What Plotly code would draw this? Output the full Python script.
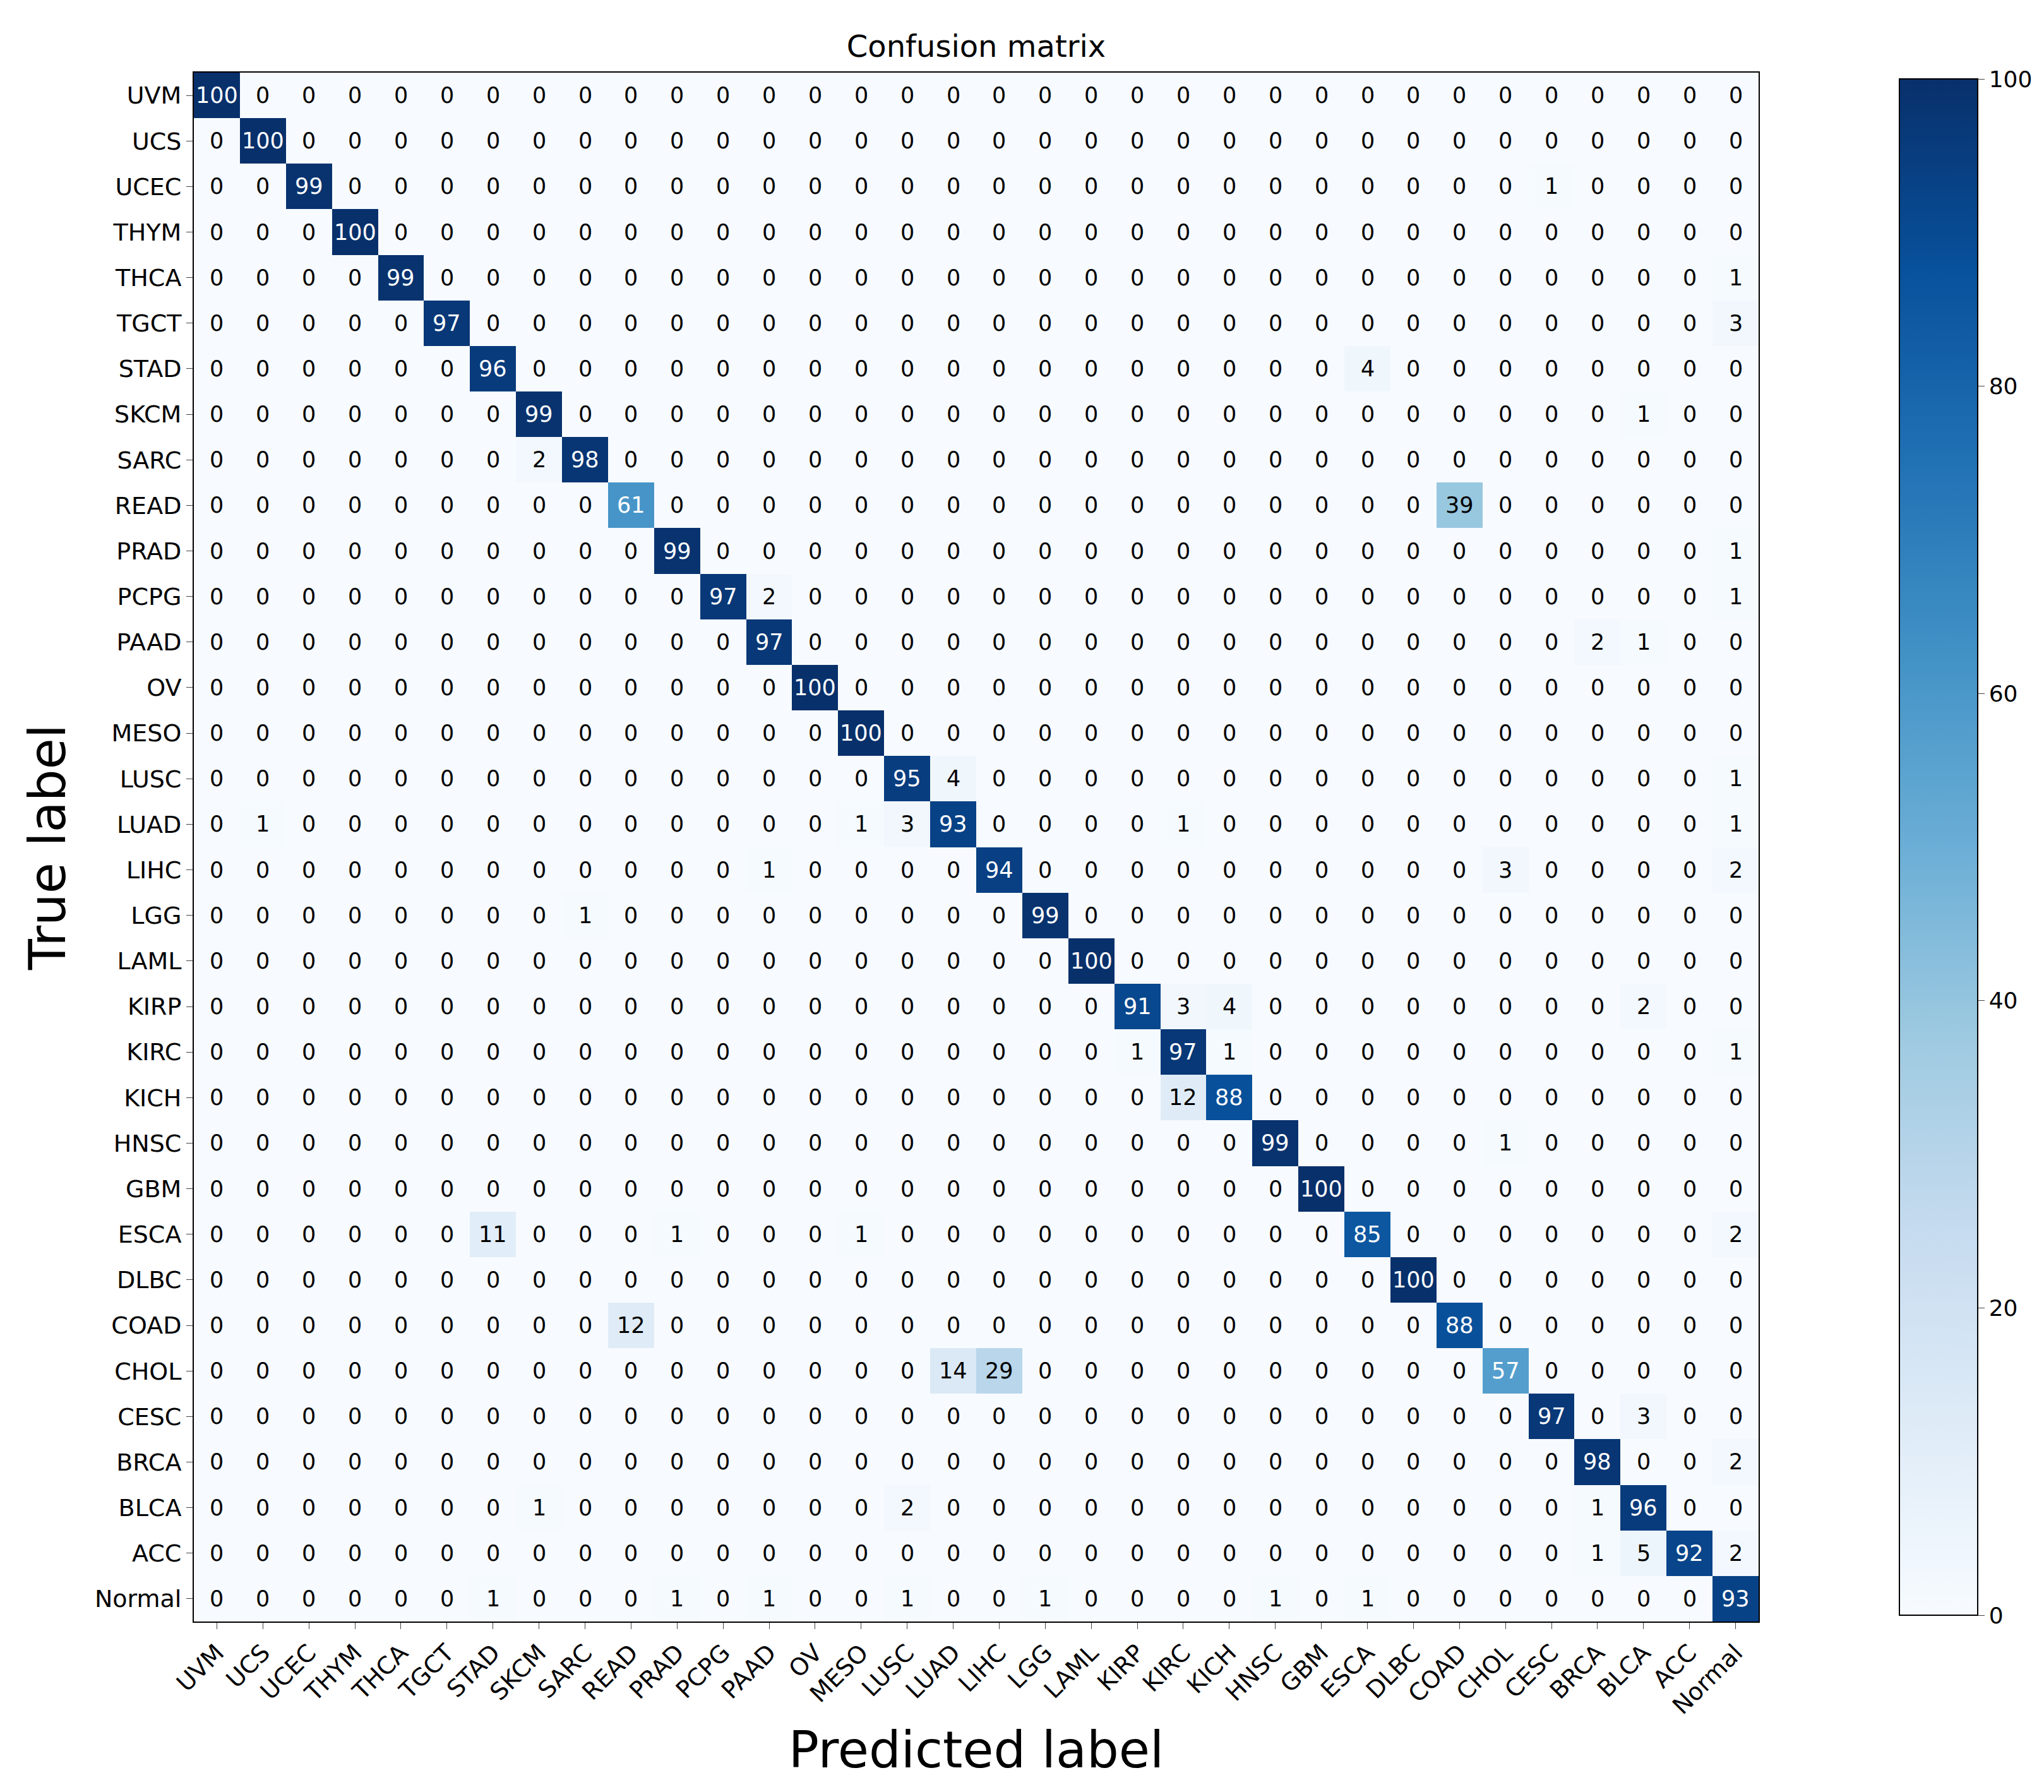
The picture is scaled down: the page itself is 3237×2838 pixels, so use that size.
import plotly.graph_objects as go

labels = ["UVM","UCS","UCEC","THYM","THCA","TGCT","STAD","SKCM","SARC","READ","PRAD","PCPG","PAAD","OV","MESO","LUSC","LUAD","LIHC","LGG","LAML","KIRP","KIRC","KICH","HNSC","GBM","ESCA","DLBC","COAD","CHOL","CESC","BRCA","BLCA","ACC","Normal"]
diagonal = [100,100,99,100,99,97,96,99,98,61,99,97,97,100,100,95,93,94,99,100,91,97,88,99,100,85,100,88,57,97,98,96,92,93]
# (true, predicted, value)
off_diagonal = [
    ("UCEC","CESC",1),("THCA","Normal",1),("TGCT","Normal",3),("STAD","ESCA",4),
    ("SKCM","BLCA",1),("SARC","SKCM",2),("READ","COAD",39),("PRAD","Normal",1),
    ("PCPG","PAAD",2),("PCPG","Normal",1),("PAAD","BRCA",2),("PAAD","BLCA",1),
    ("LUSC","LUAD",4),("LUSC","Normal",1),
    ("LUAD","UCS",1),("LUAD","MESO",1),("LUAD","LUSC",3),("LUAD","KIRC",1),("LUAD","Normal",1),
    ("LIHC","PAAD",1),("LIHC","CHOL",3),("LIHC","Normal",2),("LGG","SARC",1),
    ("KIRP","KIRC",3),("KIRP","KICH",4),("KIRP","BLCA",2),
    ("KIRC","KIRP",1),("KIRC","KICH",1),("KIRC","Normal",1),("KICH","KIRC",12),
    ("HNSC","CHOL",1),
    ("ESCA","STAD",11),("ESCA","PRAD",1),("ESCA","MESO",1),("ESCA","Normal",2),
    ("COAD","READ",12),("CHOL","LUAD",14),("CHOL","LIHC",29),("CESC","BLCA",3),
    ("BRCA","Normal",2),("BLCA","SKCM",1),("BLCA","LUSC",2),("BLCA","BRCA",1),
    ("ACC","BRCA",1),("ACC","BLCA",5),("ACC","Normal",2),
    ("Normal","STAD",1),("Normal","PRAD",1),("Normal","PAAD",1),("Normal","LUSC",1),
    ("Normal","LGG",1),("Normal","HNSC",1),("Normal","ESCA",1),
]

n = len(labels)
z = [[0]*n for _ in range(n)]
for i in range(n):
    z[i][i] = diagonal[i]
for t, p, v in off_diagonal:
    z[labels.index(t)][labels.index(p)] = v

fig = go.Figure(go.Heatmap(
    z=z, x=labels, y=labels, colorscale="Blues", zmin=0, zmax=100,
    colorbar=dict(x=1.086, xanchor="left", y=0.5, len=1.0, thickness=124,
                  tickvals=[0,20,40,60,80,100], ticks="outside", ticklen=10,
                  outlinecolor="black", outlinewidth=2,
                  tickfont=dict(size=36, family="DejaVu Sans", color="black")),
))
ann = []
for i in range(n):
    for j in range(n):
        v = z[i][j]
        ann.append(dict(x=labels[j], y=labels[i], text=str(v), showarrow=False,
                        font=dict(size=35, family="DejaVu Sans", color="white" if v > 50 else "black")))
fig.update_layout(
    width=3237, height=2838, paper_bgcolor="white", plot_bgcolor="white",
    margin=dict(l=299, r=460, t=107, b=278),
    annotations=ann,
    title=dict(text="Confusion matrix", x=0.5, xref="paper", y=0.977, yanchor="middle",
               font=dict(size=48, family="DejaVu Sans", color="black")),
    font=dict(family="DejaVu Sans", color="black"),
)
fig.update_xaxes(tickangle=-45, tickfont=dict(size=38), showline=True, mirror=True,
                 linecolor="black", linewidth=2, ticks="outside", ticklen=10,
                 title=dict(text="Predicted label", font=dict(size=80), standoff=20))
fig.update_yaxes(autorange="reversed", tickfont=dict(size=38), showline=True, mirror=True,
                 linecolor="black", linewidth=2, ticks="outside", ticklen=10,
                 title=dict(text="True label", font=dict(size=80), standoff=20))
fig.write_html("out.html")
